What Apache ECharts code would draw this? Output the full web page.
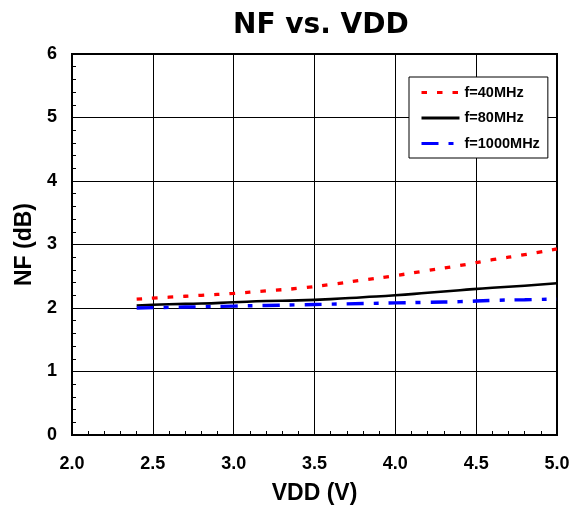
<!DOCTYPE html>
<html>
<head>
<meta charset="utf-8">
<script src="https://cdn.jsdelivr.net/npm/echarts@6/dist/echarts.min.js"></script>
<style>html,body{margin:0;padding:0;background:#fff;}#c{width:575px;height:508px;}</style>
</head>
<body>
<div id="c"></div>
<script>
const vdd = [2.4, 2.6, 2.8, 3.0, 3.2, 3.4, 3.6, 3.8, 4.0, 4.2, 4.4, 4.6, 4.8, 5.0];
const nf40 = [2.14, 2.17, 2.20, 2.23, 2.27, 2.31, 2.37, 2.44, 2.51, 2.59, 2.67, 2.76, 2.84, 2.93];
const nf80 = [2.04, 2.06, 2.07, 2.09, 2.11, 2.12, 2.14, 2.17, 2.20, 2.24, 2.28, 2.32, 2.35, 2.39];
const nf1000 = [2.00, 2.01, 2.02, 2.03, 2.04, 2.05, 2.06, 2.07, 2.08, 2.09, 2.10, 2.12, 2.13, 2.14];
const seriesNames = ['f=40MHz', 'f=80MHz', 'f=1000MHz'];

const pair = (xs, ys) => xs.map((x, i) => [x, ys[i]]);
const font = 'Liberation Sans, Arial, sans-serif';

const chart = echarts.init(document.getElementById('c'), null, {renderer: 'canvas'});
chart.setOption({
  animation: false,
  backgroundColor: '#fff',
  title: {
    text: 'NF vs. VDD',
    left: 233, top: 12,
    padding: 0,
    textStyle: {fontFamily: 'DejaVu Sans, sans-serif', fontWeight: 'bold', fontSize: 28, color: '#000'}
  },
  legend: {
    orient: 'vertical',
    left: 409, top: 77,
    padding: [8, 8, 7, 11],
    itemWidth: 38, itemHeight: 14, itemGap: 10.5,
    borderColor: '#000', borderWidth: 1,
    backgroundColor: '#fff',
    itemStyle: {opacity: 0, borderWidth: 0},
    lineStyle: {width: 3},
    textStyle: {fontFamily: font, fontWeight: 'bold', fontSize: 14.5, color: '#000'},
    data: seriesNames
  },
  grid: {
    left: 72, right: 18, top: 54, bottom: 73,
    show: true, borderColor: '#000', borderWidth: 2, backgroundColor: 'transparent',
    containLabel: false,
    outerBoundsMode: 'none'
  },
  xAxis: {
    type: 'value', min: 2, max: 5, interval: 0.5,
    name: 'VDD (V)', nameLocation: 'middle', nameGap: 47,
    nameTextStyle: {fontFamily: font, fontWeight: 'bold', fontSize: 23, color: '#000'},
    axisLine: {show: true, lineStyle: {color: '#000', width: 2}},
    axisTick: {show: true, inside: true, length: 4, lineStyle: {color: '#000'}},
    minorTick: {show: true, splitNumber: 5, length: 4, lineStyle: {color: '#000', width: 1}},
    splitLine: {show: true, lineStyle: {color: '#000', width: 1}},
    axisLabel: {
      margin: 20, fontFamily: font, fontWeight: 'bold', fontSize: 18, color: '#000',
      formatter: v => v.toFixed(1)
    }
  },
  yAxis: {
    type: 'value', min: 0, max: 6, interval: 1,
    name: 'NF (dB)', nameLocation: 'middle', nameGap: 35,
    nameTextStyle: {fontFamily: font, fontWeight: 'bold', fontSize: 23, color: '#000'},
    axisLine: {show: true, lineStyle: {color: '#000', width: 2}},
    axisTick: {show: true, inside: true, length: 4, lineStyle: {color: '#000'}},
    minorTick: {show: true, splitNumber: 5, length: 4, lineStyle: {color: '#000', width: 1}},
    splitLine: {show: true, lineStyle: {color: '#000', width: 1}},
    axisLabel: {margin: 15, fontFamily: font, fontWeight: 'bold', fontSize: 18, color: '#000'}
  },
  series: [
    {
      name: seriesNames[0], type: 'line', data: pair(vdd, nf40), symbol: 'none', smooth: true,
      lineStyle: {color: '#ff0000', width: 3.3, type: [5.5, 10]}, itemStyle: {color: '#ff0000'}
    },
    {
      name: seriesNames[1], type: 'line', data: pair(vdd, nf80), symbol: 'none', smooth: true,
      lineStyle: {color: '#000000', width: 2.6, type: 'solid'}, itemStyle: {color: '#000000'}
    },
    {
      name: seriesNames[2], type: 'line', data: pair(vdd, nf1000), symbol: 'none', smooth: true,
      lineStyle: {color: '#0000ff', width: 3.4, type: [17, 10, 5, 10]}, itemStyle: {color: '#0000ff'}
    }
  ]
});
</script>
</body>
</html>
